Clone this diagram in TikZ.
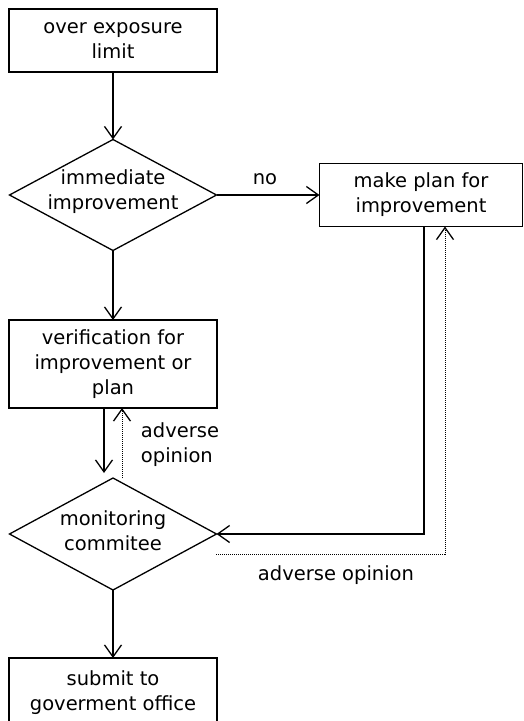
\documentclass[tikz,border=0pt]{standalone}
\usepackage{fontspec}
\setmainfont{DejaVu Sans}
\usetikzlibrary{arrows.meta,shapes.geometric}
\begin{document}
\begin{tikzpicture}[x=1pt,y=-1pt,
  font=\fontsize{19.5}{25}\selectfont,
  every node/.style={inner sep=0pt,outer sep=0pt},
  procbox/.style={draw,line width=1.3pt,rectangle,align=center},
  decis/.style={draw,line width=1.3pt,diamond,minimum width=207pt,minimum height=111pt},
  flow/.style={line width=1.3pt,-{Straight Barb[length=12pt,width=17pt,line width=1.3pt]}},
  dotflow/.style={line width=1pt,dash pattern=on 1pt off 1pt,-{Straight Barb[length=12pt,width=17pt,line width=1.3pt,sep=0pt]}},
  dotline/.style={line width=1pt,dash pattern=on 1pt off 1pt}]
\useasboundingbox (0,0) rectangle (524,721);
\node[procbox,minimum width=208pt,minimum height=63pt] (b1) at (113,40.5) {over exposure\\limit};
\node[decis] (d1) at (113,195) {};
\node[align=center] (t1) at (113,192) {immediate\\improvement};
\node[procbox,minimum width=203pt,minimum height=63pt] (b2) at (421,195) {make plan for\\improvement};
\node[procbox,minimum width=208pt,minimum height=88pt] (b3) at (113,364) {verification for\\improvement or\\plan};
\node[decis,minimum height=112pt] (d2) at (113,534) {};
\node[align=center] (t2) at (113,531) {monitoring\\commitee};
\node[procbox,minimum width=208pt,minimum height=70pt] (b4) at (113,693) {submit to\\goverment office};
\node (lno) at (265,179) {no};
\node[align=left] (la1) at (180,445) {adverse\\opinion};
\node (la2) at (336,575) {adverse opinion};
\coordinate (c1) at (104,473);
\coordinate (c2) at (122,478);
\coordinate (c3) at (424,534);
\coordinate (c4) at (216,554);
\coordinate (c5) at (445,554);
\draw[flow] (b1.south) -- (d1.north);
\draw[flow] (d1.east) -- (b2.west);
\draw[flow] (d1.south) -- (b3.north);
\draw[flow] (b3.south -| c1) -- (c1);
\draw[dotflow] (c2) -- (b3.south -| c2);
\draw[flow] (b2.south -| c3) -- (c3) -- (d2.east);
\draw[dotflow] (c4) -- (c5) -- (b2.south -| c5);
\draw[flow] (d2.south) -- (b4.north);
\end{tikzpicture}
\end{document}
